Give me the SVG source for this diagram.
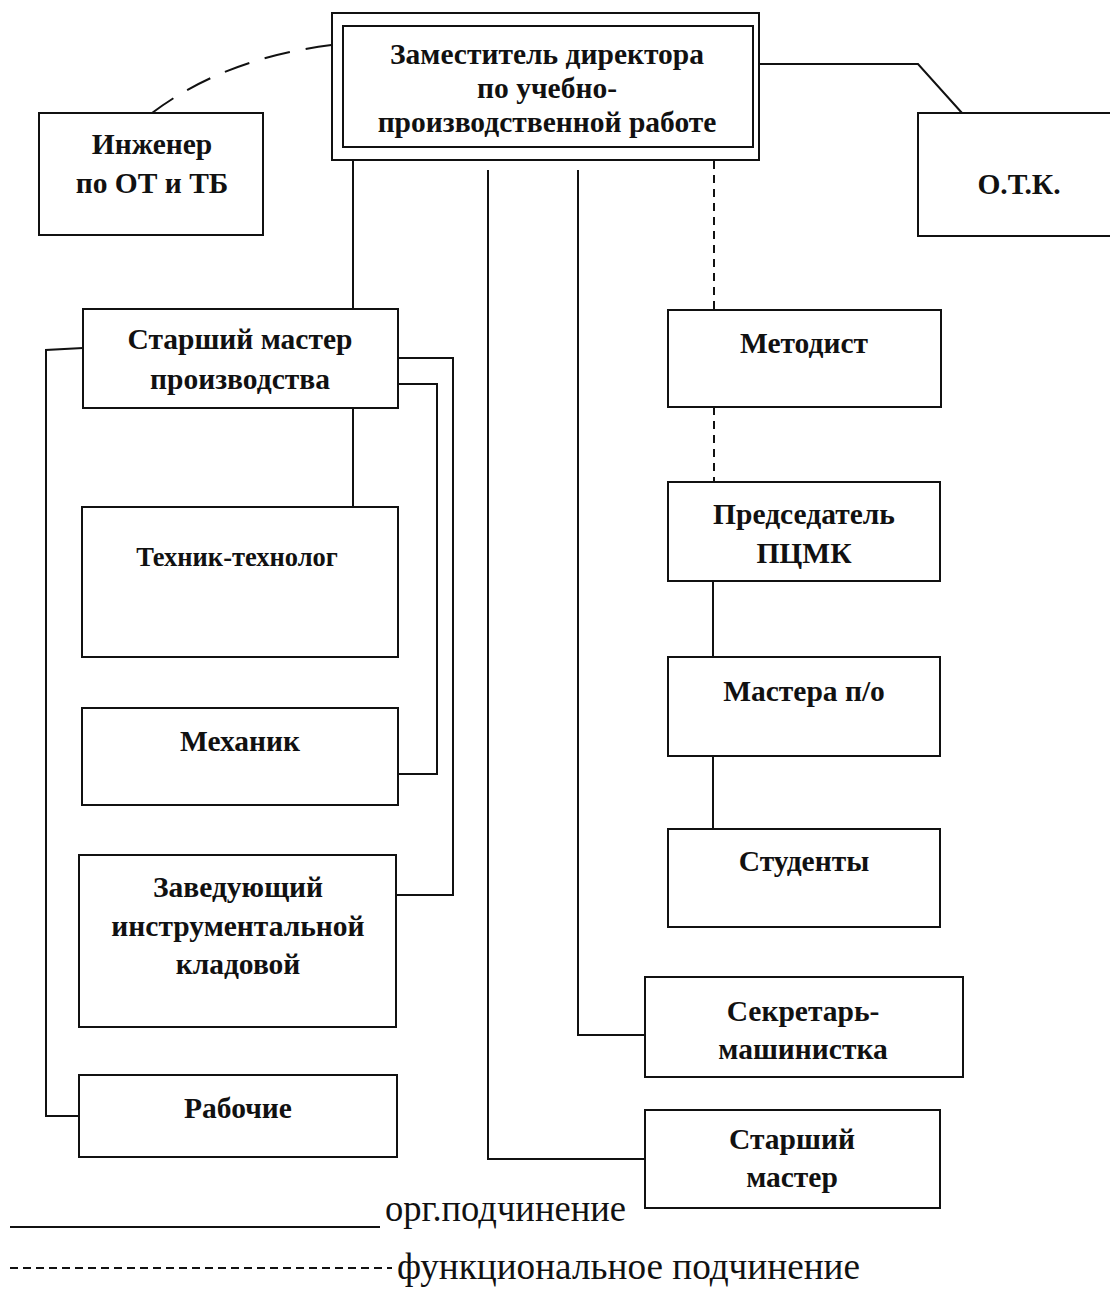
<svg xmlns="http://www.w3.org/2000/svg" width="1110" height="1292" viewBox="0 0 1110 1292">
  <style>
    .box { fill: #fff; stroke: #111; stroke-width: 2; }
    .ln { fill: none; stroke: #111; stroke-width: 2; }
    .dash { fill: none; stroke: #111; stroke-width: 2; stroke-dasharray: 8 6; }
    .t { font-family: "Liberation Serif", "Times New Roman", serif; font-weight: bold; font-size: 29.5px; fill: #111; text-anchor: middle; }
    .sm { font-size: 26.5px; }
    .leg { font-family: "Liberation Serif", "Times New Roman", serif; font-size: 38px; fill: #111; }
  </style>
  <rect width="1110" height="1292" fill="#fff"/>

  <g id="connectors">
    <path class="ln" d="M152,113 Q225,58 332,45" stroke-dasharray="26 16"/>
    <path class="ln" d="M760,64 H918 L962,113"/>
    <path class="ln" d="M353,160 V309"/>
    <path class="ln" d="M353,408 V507"/>
    <path class="ln" d="M83,348 L46,350 V1116 H79"/>
    <path class="ln" d="M398,358 H453 V895 H396"/>
    <path class="ln" d="M398,384 H437 V774 H398"/>
    <path class="dash" d="M714,161 V310"/>
    <path class="dash" d="M714,407 V482"/>
    <path class="ln" d="M713,581 V657"/>
    <path class="ln" d="M713,756 V829"/>
    <path class="ln" d="M578,170 V1035 H645"/>
    <path class="ln" d="M488,170 V1159 H645"/>
  </g>

  <g id="zam">
    <rect class="box" x="332" y="13" width="427" height="147"/>
    <rect class="box" x="343" y="26" width="410" height="121"/>
    <text class="t" x="547" y="64">Заместитель директора</text>
    <text class="t" x="547" y="98">по учебно-</text>
    <text class="t" x="547" y="132">производственной работе</text>
  </g>

  <g id="inzhener">
    <rect class="box" x="39" y="113" width="224" height="122"/>
    <text class="t" x="152" y="154">Инженер</text>
    <text class="t" x="152" y="193">по ОТ и ТБ</text>
  </g>

  <g id="otk">
    <rect class="box" x="918" y="113" width="220" height="123"/>
    <text class="t" x="1019" y="194">О.Т.К.</text>
  </g>

  <g id="starshiy-master-proizv">
    <rect class="box" x="83" y="309" width="315" height="99"/>
    <text class="t" x="240" y="349">Старший мастер</text>
    <text class="t" x="240" y="389">производства</text>
  </g>

  <g id="tekhnik">
    <rect class="box" x="82" y="507" width="316" height="150"/>
    <text class="t sm" x="237" y="566">Техник-технолог</text>
  </g>

  <g id="mekhanik">
    <rect class="box" x="82" y="708" width="316" height="97"/>
    <text class="t" x="240" y="751">Механик</text>
  </g>

  <g id="zaveduyushchiy">
    <rect class="box" x="79" y="855" width="317" height="172"/>
    <text class="t" x="238" y="897">Заведующий</text>
    <text class="t" x="238" y="936">инструментальной</text>
    <text class="t" x="238" y="974">кладовой</text>
  </g>

  <g id="rabochie">
    <rect class="box" x="79" y="1075" width="318" height="82"/>
    <text class="t" x="238" y="1118">Рабочие</text>
  </g>

  <g id="metodist">
    <rect class="box" x="668" y="310" width="273" height="97"/>
    <text class="t" x="804" y="353">Методист</text>
  </g>

  <g id="predsedatel">
    <rect class="box" x="668" y="482" width="272" height="99"/>
    <text class="t" x="804" y="524">Председатель</text>
    <text class="t" x="804" y="563">ПЦМК</text>
  </g>

  <g id="mastera">
    <rect class="box" x="668" y="657" width="272" height="99"/>
    <text class="t" x="804" y="701">Мастера п/о</text>
  </g>

  <g id="studenty">
    <rect class="box" x="668" y="829" width="272" height="98"/>
    <text class="t" x="804" y="871">Студенты</text>
  </g>

  <g id="sekretar">
    <rect class="box" x="645" y="977" width="318" height="100"/>
    <text class="t" x="803" y="1021">Секретарь-</text>
    <text class="t" x="803" y="1059">машинистка</text>
  </g>

  <g id="starshiy-master">
    <rect class="box" x="645" y="1110" width="295" height="98"/>
    <text class="t" x="792" y="1149">Старший</text>
    <text class="t" x="792" y="1187">мастер</text>
  </g>

  <g id="legend">
    <path class="ln" d="M10,1227 H380" stroke-width="1.5"/>
    <text class="leg" x="385" y="1221" textLength="241" lengthAdjust="spacingAndGlyphs">орг.подчинение</text>
    <path class="ln" d="M10,1268 H392" stroke-width="2" stroke-dasharray="8 5"/>
    <text class="leg" x="397" y="1279" textLength="463" lengthAdjust="spacingAndGlyphs">функциональное подчинение</text>
  </g>
</svg>
